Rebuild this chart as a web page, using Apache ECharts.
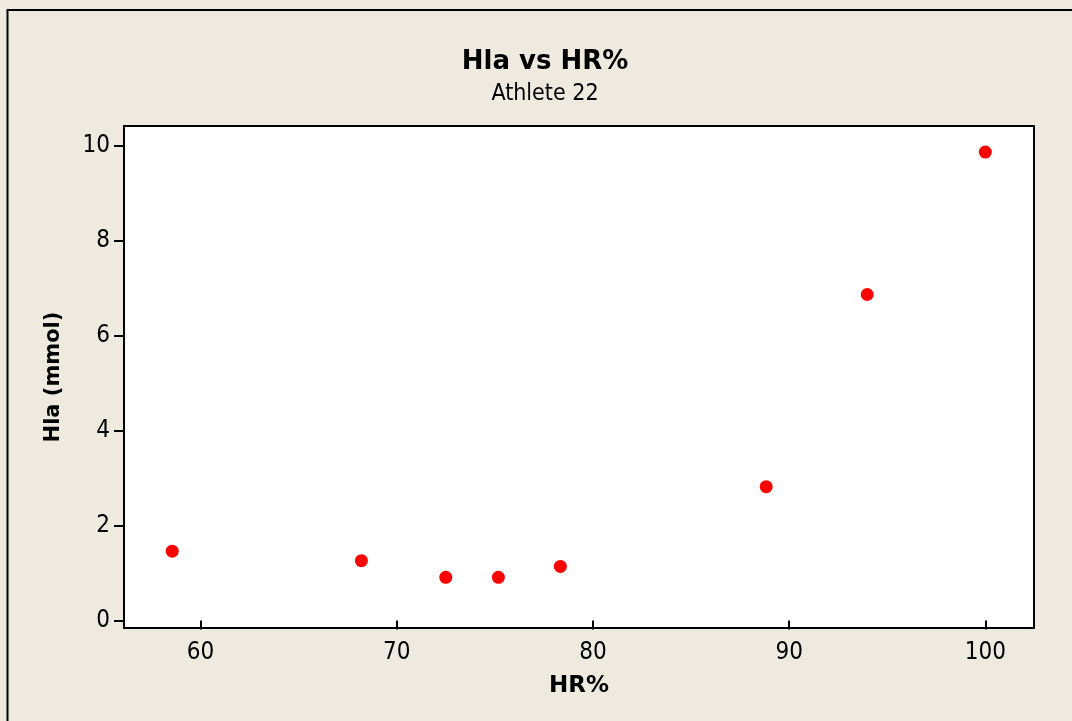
<!DOCTYPE html>
<html>
<head>
<meta charset="utf-8">
<script src="https://cdn.jsdelivr.net/npm/echarts@6/dist/echarts.min.js"></script>
<style>
  html, body { margin: 0; padding: 0; background: #EEEAE0; }
  #chart { width: 1072px; height: 721px; }
</style>
</head>
<body>
<div id="chart"></div>
<script>
const titleText = 'Hla vs HR%';
const subtitleText = 'Athlete 22';
const xName = 'HR%';
const yName = 'Hla (mmol)';
const hrPercent = [58.56, 68.2, 72.5, 75.18, 78.34, 88.83, 93.98, 100.0];
const hlaValues = [1.46, 1.26, 0.91, 0.91, 1.14, 2.82, 6.87, 9.87];
const xTicks = [60, 70, 80, 90, 100];
const yTicks = [0, 2, 4, 6, 8, 10];

const points = hrPercent.map((x, i) => [x, hlaValues[i]]);
const chart = echarts.init(document.getElementById('chart'), null, { renderer: 'canvas' });
const tickFont = { fontFamily: 'DejaVu Sans Condensed', fontSize: 24, color: '#000' };

chart.setOption({
  animation: false,
  backgroundColor: '#EEEAE0',
  graphic: [{
    type: 'rect', silent: true, z: -10,
    shape: { x: 7.5, y: 10, width: 1100, height: 800 },
    style: { fill: '#EEEAE0', stroke: '#000', lineWidth: 2 }
  }, {
    type: 'text', silent: true, x: 545, y: 62,
    style: { text: titleText, align: 'center', verticalAlign: 'middle',
      font: 'bold 26px "DejaVu Sans"', fill: '#000' }
  }, {
    type: 'text', silent: true, x: 545, y: 94,
    style: { text: subtitleText, align: 'center', verticalAlign: 'middle',
      font: '23px "DejaVu Sans Condensed"', fill: '#000' }
  }],
  grid: {
    left: 124, top: 126, right: 38, bottom: 93,
    show: true, backgroundColor: '#fff', borderColor: '#000', borderWidth: 2
  },
  xAxis: {
    type: 'value', min: 56.1, max: 102.48,
    name: xName, nameLocation: 'middle', nameGap: 47,
    nameTextStyle: { fontFamily: 'DejaVu Sans', fontWeight: 'bold', fontSize: 23, color: '#000' },
    axisLine: { show: false },
    axisTick: { show: true, customValues: xTicks, length: 9, lineStyle: { color: '#000', width: 2 } },
    axisLabel: { customValues: xTicks, margin: 13, ...tickFont },
    splitLine: { show: false }
  },
  yAxis: {
    type: 'value', min: -0.158, max: 10.42,
    name: yName, nameLocation: 'middle', nameGap: 60, nameRotate: 90,
    nameTextStyle: { fontFamily: 'DejaVu Sans', fontWeight: 'bold', fontSize: 21, color: '#000' },
    axisLine: { show: false },
    axisTick: { show: true, customValues: yTicks, length: 10, lineStyle: { color: '#000', width: 2 } },
    axisLabel: { customValues: yTicks, margin: 14, ...tickFont },
    splitLine: { show: false }
  },
  series: [{
    type: 'scatter',
    data: points,
    symbol: 'circle',
    symbolSize: 13,
    itemStyle: { color: '#FF0000', opacity: 1 }
  }]
});
</script>
</body>
</html>
